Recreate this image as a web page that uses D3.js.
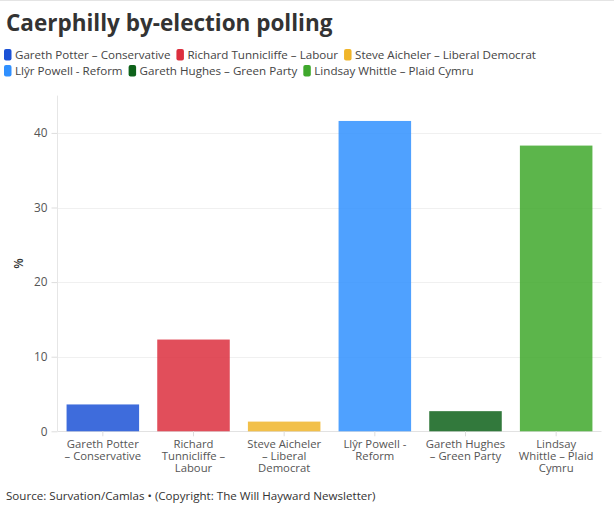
<!DOCTYPE html>
<html><head><meta charset="utf-8">
<script src="https://cdn.jsdelivr.net/npm/d3@7"></script>
<style>body{margin:0;background:#fff}svg{display:block}text{font-family:"Open Sans",sans-serif}</style>
</head><body>
<svg id="c" width="614" height="505"></svg>
<script>
const categories = ["Gareth Potter – Conservative","Richard Tunnicliffe – Labour","Steve Aicheler – Liberal Democrat","Llŷr Powell - Reform","Gareth Hughes – Green Party","Lindsay Whittle – Plaid Cymru"];
const axisLabels = [["Gareth Potter","– Conservative"],["Richard","Tunnicliffe –","Labour"],["Steve Aicheler","– Liberal","Democrat"],["Llŷr Powell -","Reform"],["Gareth Hughes","– Green Party"],["Lindsay","Whittle – Plaid","Cymru"]];
const values = [3.6, 12.3, 1.3, 41.6, 2.7, 38.3];
const colors = ["#1c52d6","#dc2f3e","#f0b52a","#3090ff","#0e621a","#3fa82c"];
const yTicks = [0,10,20,30,40];

const svg = d3.select("#c");
svg.append("line").attr("x1",0).attr("x2",614).attr("y1",0.5).attr("y2",0.5).attr("stroke","#e4e4e4");
svg.append("text").attr("x",6).attr("y",31).attr("font-size",22.5).attr("font-weight",700).attr("fill","#333").text("Caerphilly by-election polling");

// legend
const lg = svg.append("g");
let lx = 4, ly = 49;
categories.forEach((c,i)=>{
  const g = lg.append("g");
  const t = g.append("text").attr("font-size",11.6).attr("fill","#444").text(c);
  const w = t.node().getComputedTextLength();
  if (lx + 11 + w > 560) { lx = 4; ly += 16; }
  g.attr("transform",`translate(${lx},${ly})`);
  g.insert("rect","text").attr("width",7.5).attr("height",11.5).attr("rx",2).attr("fill",colors[i]);
  t.attr("x",11).attr("y",10);
  lx += 11 + w + 6;
});

const m = {l:57.5, r:601.5, t:95.6, b:431.3};
const x = d3.scaleBand().domain(categories).range([m.l,m.r]).paddingInner(0.2).paddingOuter(0.1);
const y = d3.scaleLinear().domain([0,45]).range([m.b,m.t]);

// grid
const ga = svg.append("g").attr("transform",`translate(${m.l},0)`)
  .call(d3.axisLeft(y).tickValues(yTicks).tickSize(6).tickPadding(4));
ga.select(".domain").remove();
ga.selectAll(".tick line").attr("stroke","#ddd");
ga.selectAll(".tick text").attr("font-size",11.8).attr("fill","#555").attr("font-family","Open Sans, sans-serif");
svg.append("g").selectAll("line").data(yTicks).join("line")
  .attr("x1",m.l).attr("x2",m.r).attr("y1",d=>Math.round(y(d))+0.5).attr("y2",d=>Math.round(y(d))+0.5)
  .attr("stroke",d=>d===0?"#e2e2e2":"#f0f0f0");
svg.append("line").attr("x1",m.l).attr("x2",m.l).attr("y1",m.t).attr("y2",m.b).attr("stroke","#e6e6e6");

svg.append("text").attr("transform",`translate(23,${(m.t+m.b)/2}) rotate(-90)`).attr("text-anchor","middle")
  .attr("font-size",12).attr("font-weight",600).attr("fill","#333").text("%");

// bars
svg.append("g").selectAll("rect").data(values).join("rect")
  .attr("x",(d,i)=>x(categories[i])).attr("width",x.bandwidth())
  .attr("y",d=>y(d)).attr("height",d=>y(0)-y(d))
  .attr("fill",(d,i)=>colors[i]).attr("fill-opacity",0.85);

// x axis
const xa = svg.append("g").attr("transform",`translate(0,${m.b})`).call(d3.axisBottom(x).tickSize(5).tickFormat(""));
xa.select(".domain").remove();
xa.selectAll(".tick line").attr("stroke","#ddd");
xa.selectAll(".tick").each(function(d,i){
  const t = d3.select(this).append("text").attr("text-anchor","middle").attr("font-size",11.3).attr("fill","#555");
  axisLabels[i].forEach((s,j)=>t.append("tspan").attr("x",0).attr("y",16.5+j*12.2).text(s));
});

svg.append("text").attr("x",6).attr("y",499.5).attr("font-size",11.6).attr("fill","#333")
  .text("Source: Survation/Camlas • (Copyright: The Will Hayward Newsletter)");
</script>
</body></html>
